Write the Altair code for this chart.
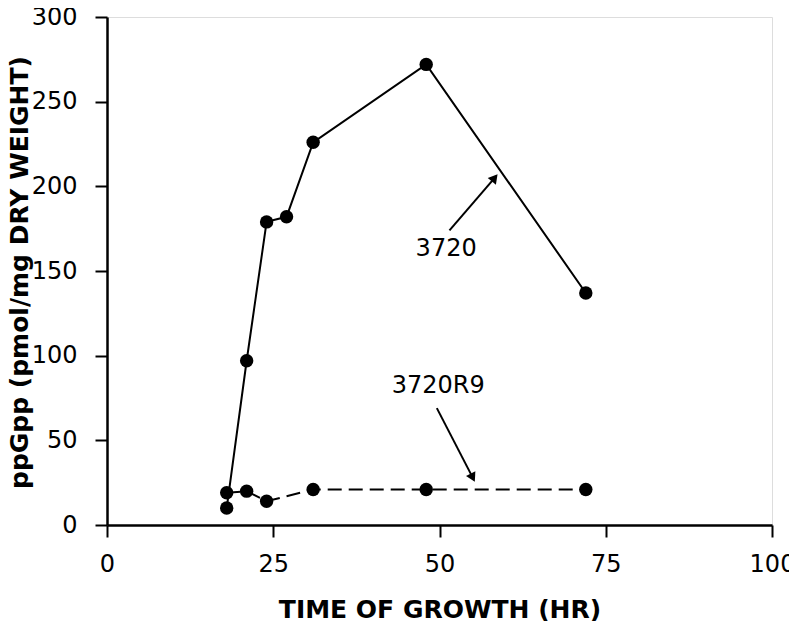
import altair as alt
import pandas as pd

# Strain 3720 (solid line)
x_3720 = [18, 21, 24, 27, 31, 48, 72]
y_3720 = [10, 97, 179, 182, 226, 272, 137]
# Strain 3720R9 (dashed line)
x_r9 = [18, 21, 24, 31, 48, 72]
y_r9 = [19, 20, 14, 21, 21, 21]

# annotations: label, label x/y, arrow tail x/y, arrow head x/y, head angle
ann_label = ["3720", "3720R9"]
ann_lx = [51.0, 49.8]
ann_ly = [163, 82]
ann_tx = [51.5, 49.6]
ann_ty = [174, 69]
ann_hx = [58.3, 55.0]
ann_hy = [205, 28]
ann_angle = [39, 153]

FONT = "DejaVu Sans"

s1 = pd.DataFrame({"x": x_3720, "y": y_3720, "strain": "3720"})
s2 = pd.DataFrame({"x": x_r9, "y": y_r9, "strain": "3720R9"})
ann = pd.DataFrame({"label": ann_label, "lx": ann_lx, "ly": ann_ly,
                    "tx": ann_tx, "ty": ann_ty, "hx": ann_hx, "hy": ann_hy,
                    "angle": ann_angle})

xs = alt.Scale(domain=[0, 100], nice=False, zero=False)
ys = alt.Scale(domain=[0, 300], nice=False)

xax = alt.Axis(values=[0, 25, 50, 75, 100], title="TIME OF GROWTH (HR)",
               grid=False, domainColor="black", domainWidth=2.5,
               tickColor="black", tickWidth=2, tickSize=12,
               labelFont=FONT, labelFontSize=24, labelColor="black",
               labelBaseline="alphabetic", labelPadding=34, labelFlush=False,
               titleFont=FONT, titleFontSize=25, titleFontWeight="bold",
               titleColor="black", titleBaseline="alphabetic", titleY=92)
yax = alt.Axis(values=[0, 50, 100, 150, 200, 250, 300],
               title="ppGpp (pmol/mg DRY WEIGHT)",
               grid=False, domainColor="black", domainWidth=2.5,
               tickColor="black", tickWidth=2, tickSize=12,
               labelFont=FONT, labelFontSize=24, labelColor="black",
               labelPadding=18, labelFlush=False,
               titleFont=FONT, titleFontSize=25,
               titleFontWeight="bold", titleColor="black",
               titleBaseline="alphabetic", titleX=-80, titleY=255)

X = alt.X("x:Q", scale=xs, axis=xax)
Y = alt.Y("y:Q", scale=ys, axis=yax)

line1 = alt.Chart(s1).mark_line(color="black", strokeWidth=2).encode(x=X, y=Y)
pts1 = alt.Chart(s1).mark_circle(color="black", size=180, opacity=1).encode(x="x:Q", y="y:Q")
line2 = alt.Chart(s2).mark_line(color="black", strokeWidth=2, strokeDash=[14, 7]).encode(x="x:Q", y="y:Q")
pts2 = alt.Chart(s2).mark_circle(color="black", size=180, opacity=1).encode(x="x:Q", y="y:Q")

labels = alt.Chart(ann).mark_text(font=FONT, fontSize=24, color="black").encode(
    x="lx:Q", y="ly:Q", text="label:N")
shafts = alt.Chart(ann).mark_rule(color="black", strokeWidth=2).encode(
    x="tx:Q", y="ty:Q", x2="hx:Q", y2="hy:Q")
heads = alt.Chart(ann).mark_point(shape="triangle-up", filled=True, color="black",
                                  size=110, opacity=1).encode(
    x="hx:Q", y="hy:Q", angle=alt.Angle("angle:Q", scale=None))

chart = alt.layer(line1, line2, pts1, pts2, shafts, heads, labels).properties(
    width=665, height=508,
    autosize=alt.AutoSizeParams(type="none"),
    padding={"left": 99, "top": 9, "right": 17, "bottom": 96},
).configure_view(stroke="black", strokeWidth=2.5).configure(background="white")

chart.save("out.html", embed_options={"renderer": "svg", "actions": False})
